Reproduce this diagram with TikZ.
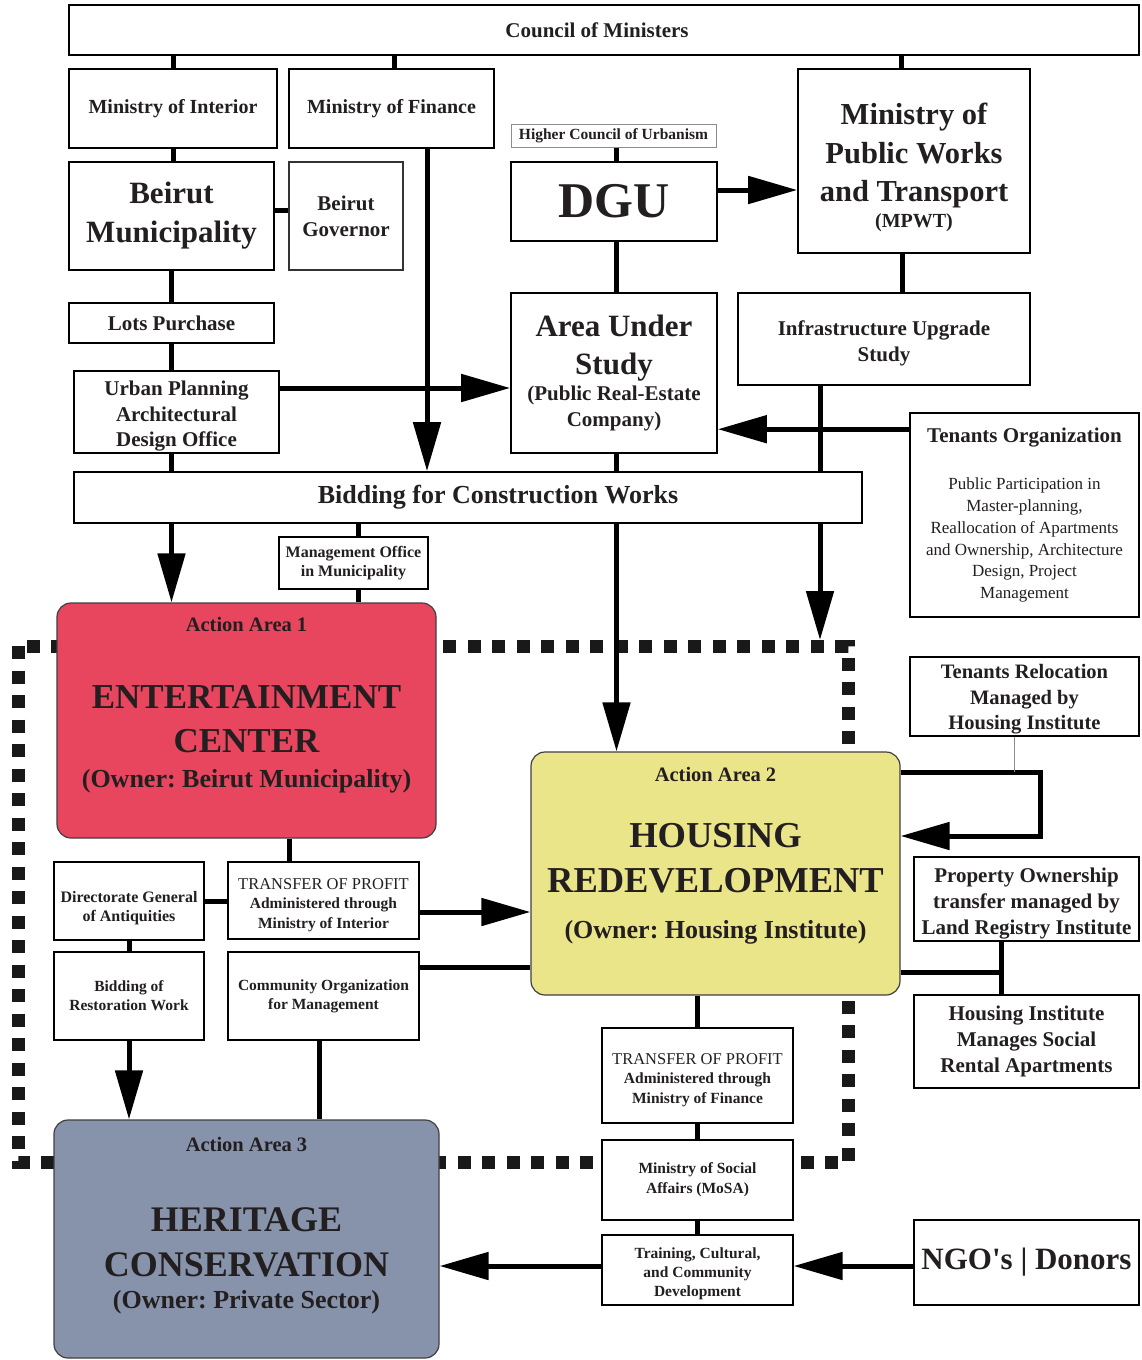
\documentclass[tikz,border=0pt]{standalone}
\usepackage{fontspec}
\setmainfont{Liberation Serif}
\newfontfamily\rawserif{Liberation Serif}
\frenchspacing
\usetikzlibrary{arrows.meta,calc}
\definecolor{ink}{HTML}{231F20}
\definecolor{aaRed}{HTML}{E8455E}
\definecolor{aaYellow}{HTML}{EBE58A}
\definecolor{aaBlue}{HTML}{8792AB}
\newcommand\fbd[2]{\fontsize{#1}{#2}\selectfont\bfseries}
\newcommand\frg[2]{\fontsize{#1}{#2}\selectfont\mdseries}
% box from corner (x1,y1) to corner (x2,y2): name, x1, y1, x2, y2, style, text
\newcommand\bx[7]{%
  \pgfmathsetmacro\bxW{#4-#2}\pgfmathsetmacro\bxH{#5-#3}%
  \pgfmathsetmacro\bxX{(#2+#4)/2}\pgfmathsetmacro\bxY{(#3+#5)/2}%
  \node[#6, minimum width=\bxW pt, minimum height=\bxH pt] (#1) at (\bxX,\bxY) {#7};}
\begin{document}
\begin{tikzpicture}[x=1pt,y=-1pt,
  box/.style={draw=black, line width=1.6pt, fill=white, inner sep=0pt, align=center, text=ink},
  thinbox/.style={box, draw=black!45, line width=1pt},
  aabox/.style={draw=black!75, line width=1.2pt, rounded corners=14pt, inner sep=0pt},
  aatext/.style={align=center, inner sep=0pt, text=ink},
  conn/.style={line width=5pt, draw=black},
  arr/.style={conn, -{Triangle[length=49pt,width=27pt]}},
  hair/.style={line width=0.8pt, draw=black!45},
  framedots/.style={line width=13pt, dash pattern=on 13pt off 11.5pt, draw=black!90}]

\fill[white] (0,0) rectangle (1141,1360);
\useasboundingbox (0,0) rectangle (1141,1360);

% dotted frame around the action areas
\draw[framedots] (18,646) rectangle (848,1162);

% governance boxes
\bx{council}{69}{5}{1139}{55}{box, font=\fbd{21}{25}}{Council of Ministers\hspace*{14pt}}
\bx{mint}{69}{69}{277}{148}{box, line width=1.2pt, font=\fbd{20}{24}}{Ministry of Interior}
\bx{mfin}{289}{69}{494}{148}{box, line width=1.2pt, font=\fbd{20}{24}}{Ministry of Finance}
\bx{muni}{69}{162}{274}{270}{box, font=\fbd{31}{39}}{Beirut\\Municipality}
\bx{gov}{289}{162}{403}{270}{box, line width=1.2pt, draw=black!80, font=\fbd{21}{26}}{Beirut\\Governor}
\bx{higher}{511}{124}{716}{147}{thinbox, font=\fbd{15.5}{19}}{Higher Council of Urbanism}
\bx{dgu}{511}{162}{717}{241}{box, line width=1.2pt, font=\fbd{50}{60}}{DGU}
\bx{mpwt}{798}{69}{1030}{253}{box, font=\fbd{30.5}{38.5}, text height=137.3pt}{Ministry of\\Public Works\\and Transport\\[-12.9pt]\fbd{20}{24}(MPWT)}
\bx{lots}{69}{303}{274}{343}{box, line width=1.2pt, font=\fbd{21}{25}}{Lots Purchase}
\bx{urban}{74}{371}{279}{453}{box, line width=1.2pt, font=\fbd{21}{25.5}, text height=73.7pt}{Urban Planning\\Architectural\\Design Office}
\bx{area}{511}{293}{717}{453}{box, font=\fbd{31}{38}}{Area Under\\Study\\[-12pt]\fbd{21}{26}(Public Real-Estate\\[-12pt]\fbd{21}{26}Company)}
\bx{infra}{738}{293}{1030}{385}{box, font=\fbd{21}{26}, text height=50.3pt}{Infrastructure Upgrade\\Study}
\bx{tenants}{910}{413}{1139}{617}{box, font=\frg{17}{21.8}}{\fbd{21}{26}Tenants Organization\\[25.8pt]Public Participation in\\Master-planning,\\Reallocation of Apartments\\and Ownership, Architecture\\Design, Project\\Management}
\bx{bidding}{74}{472}{862}{523}{box, font=\fbd{26}{30}}{\hspace*{60pt}Bidding for Construction Works}
\bx{mgmt}{279}{537}{428}{589}{box, line width=1.2pt, font=\fbd{16}{19}}{Management Office\\in Municipality}

% action areas
\bx{aa1}{57}{603}{436}{838}{aabox, fill=aaRed}{}
\node[aatext, font=\fbd{20.5}{24}] (aa1title) at (246.5,624) {Action Area 1};
\node[aatext, font=\fbd{35}{44}] (aa1body) at (246.5,739) {ENTERTAINMENT\\CENTER\\[-9pt]\fbd{26}{30}(Owner: Beirut Municipality)};

\bx{aa2}{531}{752}{900}{995}{aabox, fill=aaYellow}{}
\node[aatext, font=\fbd{20.5}{24}] (aa2title) at (715.5,774) {Action Area 2};
\node[aatext, font=\fbd{36.5}{45}] (aa2body) at (715.5,884) {HOUSING\\REDEVELOPMENT\\[0.5pt]\fbd{26}{30}(Owner: Housing Institute)};

\bx{aa3}{54}{1120}{439}{1358}{aabox, fill=aaBlue}{}
\node[aatext, font=\fbd{20.5}{24}] (aa3title) at (246.5,1144) {Action Area 3};
\node[aatext, font=\fbd{36}{45}] (aa3body) at (246.5,1261) {HERITAGE\\CONSERVATION\\[-12.5pt]\fbd{26}{30}(Owner: Private Sector)};

% side boxes
\bx{reloc}{910}{657}{1139}{736}{box, font=\fbd{20.5}{25.5}, text height=71.4pt}{Tenants Relocation\\Managed by\\Housing Institute}
\bx{prop}{914}{857}{1139}{941}{box, font=\fbd{21}{26}, text height=76pt}{Property Ownership\\transfer managed by\\Land Registry Institute}
\bx{hism}{914}{995}{1139}{1088}{box, font=\fbd{21}{26}}{Housing Institute\\Manages Social\\Rental Apartments}
\bx{direc}{54}{862}{204}{940}{box, line width=1.2pt, font=\fbd{16}{19}, text height=44pt}{Directorate General\\of Antiquities}
\bx{tr1}{228}{862}{419}{939}{box, line width=1.2pt, font=\frg{16.5}{19.5}, text height=59pt}{TRANSFER OF PROFIT\\\fbd{15.5}{19.5}Administered through\\\fbd{15.5}{19.5}Ministry of Interior}
\bx{bidres}{54}{952}{204}{1040}{box, line width=1.2pt, font=\fbd{15.5}{19}}{Bidding of\\Restoration Work}
\bx{comm}{228}{952}{419}{1040}{box, line width=1.2pt, font=\fbd{15.5}{19}}{Community Organization\\for Management}
\bx{tr2}{602}{1028}{793}{1123}{box, line width=1.2pt, font=\frg{16.5}{19.5}, text height=59pt}{TRANSFER OF PROFIT\\\fbd{15.5}{19.5}Administered through\\\fbd{15.5}{19.5}Ministry of Finance}
\bx{mosa}{602}{1140}{793}{1220}{box, font=\fbd{15.5}{20}}{Ministry of Social\\Affairs (MoSA)}
\bx{train}{602}{1235}{793}{1305}{box, line width=1.2pt, font=\fbd{15.5}{19}, text height=57pt}{Training, Cultural,\\and Community\\Development}
\bx{ngo}{914}{1220}{1139}{1305}{box, font=\fbd{31}{36}}{NGO{\rawserif '}s | Donors}

% connector points
\coordinate (finA) at ([xshift=2.5pt]mfin.north);
\coordinate (finB) at ([xshift=35.5pt]mfin.south);
\coordinate (pwA) at ([xshift=-13pt]mpwt.north);
\coordinate (pwB) at ([xshift=-12pt]mpwt.south);
\coordinate (mgA) at ([yshift=6pt]muni.east);
\coordinate (uA) at ([yshift=24pt]urban.east);
\coordinate (hcA) at ([xshift=3pt]higher.south);
\coordinate (dgA) at ([yshift=11.5pt]dgu.east);
\coordinate (iA) at ([xshift=-64pt]infra.south);
\coordinate (iEnd) at (820,640);
\coordinate (tA) at ($(tenants.north west)+(0,17)$);
\coordinate (moA) at ([xshift=4.5pt]mgmt.north);
\coordinate (moB) at ([xshift=4.5pt]mgmt.south);
\coordinate (a1A) at ([xshift=42.5pt]aa1.south);
\coordinate (t1A) at ([yshift=-11.5pt]tr1.east);
\coordinate (cA) at ([yshift=29pt]comm.east);
\coordinate (cB) at ([xshift=-4.5pt]comm.south);
\coordinate (trA) at ([yshift=4pt]train.west);
\coordinate (loopA) at ([yshift=101.5pt]aa2.east);
\coordinate (loopB) at ($(loopA)+(140,0)$);
\coordinate (loopC) at ($(loopB)+(0,64)$);
\coordinate (loopD) at ([yshift=37.5pt]aa2.east);
\coordinate (rlA) at ([xshift=-10.5pt]reloc.south);
\coordinate (pA) at ([yshift=-98.5pt]aa2.east);
\coordinate (pB) at ([xshift=-25.5pt]prop.south);

% connectors
\draw[conn] (mint.north) -- (mint.north |- council.south);
\draw[conn] (finA) -- (finA |- council.south);
\draw[conn] (pwA) -- (pwA |- council.south);
\draw[conn] (mint.south) -- (mint.south |- muni.north);
\draw[conn] (mgA) -- (mgA -| gov.west);
\draw[conn] (muni.south) -- (muni.south |- lots.north);
\draw[conn] (lots.south) -- (lots.south |- urban.north);
\draw[conn] (lots.south |- urban.south) -- (lots.south |- bidding.north);
\draw[arr] (finB) -- (finB |- bidding.north);
\draw[arr] (uA) -- (uA -| area.west);
\draw[conn] (hcA) -- (hcA |- dgu.north);
\draw[arr] (dgA) -- (dgA -| mpwt.west);
\draw[conn] (hcA |- dgu.south) -- (hcA |- area.north);
\draw[conn] (pwB) -- (pwB |- infra.north);
\draw[conn] (iA) -- (iA |- bidding.north);
\draw[arr] (iA |- bidding.south) -- (iEnd);
\draw[arr] (tA) -- (tA -| area.east);
\draw[conn] (hcA |- area.south) -- (hcA |- bidding.north);
\draw[arr] (bidding.south -| lots.south) -- (aa1.north -| lots.south);
\draw[conn] (moA |- bidding.south) -- (moA);
\draw[conn] (moB) -- (moB |- aa1.north);
\draw[arr] (bidding.south -| hcA) -- (aa2.north -| hcA);
\draw[conn] (a1A) -- (a1A |- tr1.north);
\draw[conn] (direc.east) -- (direc.east -| tr1.west);
\draw[arr] (t1A) -- (t1A -| aa2.west);
\draw[conn] (direc.south) -- (direc.south |- bidres.north);
\draw[arr] (bidres.south) -- (bidres.south |- aa3.north);
\draw[conn] (cA) -- (cA -| aa2.west);
\draw[conn] (cB) -- (cB |- aa3.north);
\draw[conn] (aa2.south -| tr2.north) -- (tr2.north);
\draw[conn] (tr2.south) -- (mosa.north);
\draw[conn] (mosa.south) -- (train.north);
\draw[arr] (trA) -- (trA -| aa3.east);
\draw[arr] (trA -| ngo.west) -- (trA -| train.east);
\draw[arr, line join=miter] (loopA) -- (loopB) -- (loopC) -- (loopD);
\draw[hair] (rlA) -- (rlA |- loopA);
\draw[conn] (pA) -- (pA -| pB);
\draw[conn] (pB) -- (pB |- hism.north);
\end{tikzpicture}
\end{document}
